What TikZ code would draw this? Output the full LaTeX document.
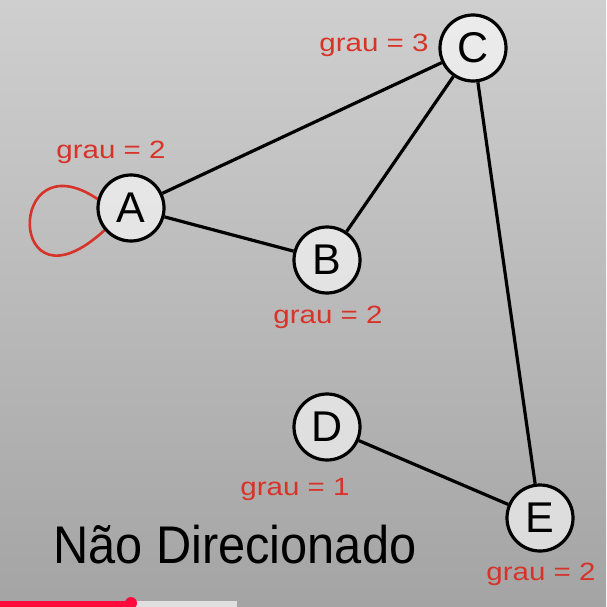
\documentclass[tikz,border=0pt]{standalone}
\usepackage{fontspec}
\setmainfont{Liberation Sans}
\pgfdeclarelayer{bg}
\pgfsetlayers{bg,main}
\definecolor{fundoalto}{RGB}{207,207,207}
\definecolor{fundobaixo}{RGB}{164,164,164}
\definecolor{vermelho}{RGB}{214,52,40}
\definecolor{barra}{RGB}{255,10,60}
\tikzset{
    vert/.style={circle, draw, line width=3.2pt, fill=white, fill opacity=.6, text opacity=1,
        minimum size=66pt, inner sep=0pt, font=\fontsize{43}{50}\selectfont},
    grau/.style={text=vermelho, inner sep=0pt, anchor=base, font=\fontsize{25}{30}\selectfont}
}
\tikzset{aresta/.style={line width=3.2pt}, laco/.style={draw=vermelho, line width=2.6pt}}
\newcommand{\largo}[2]{\scalebox{#1}[1]{#2}}

\begin{document}
\begin{tikzpicture}[x=1pt, y=-1pt]
    \useasboundingbox (0,0) rectangle (606,607);

    \node (A) [vert] at (131, 208) {A};
    \node (B) [vert] at (327, 260) {B};
    \node (C) [vert] at (473, 48) {C};
    \node (D) [vert] at (327, 427) {D};
    \node (E) [vert] at (540, 518) {E};

    \node (gA) [grau] at (111, 158) {\largo{1.18}{grau = 2}};
    \node (gB) [grau] at (328, 323) {\largo{1.18}{grau = 2}};
    \node (gC) [grau] at (374, 52) {\largo{1.18}{grau = 3}};
    \node (gD) [grau] at (295, 495) {\largo{1.18}{grau = 1}};
    \node (gE) [grau] at (541, 580) {\largo{1.18}{grau = 2}};

    \node (titulo) [anchor=base west, inner sep=0pt, font=\fontsize{53}{60}\selectfont] at (53, 563) {\largo{0.92}{Não Direcionado}};

    \begin{pgfonlayer}{bg}
        \shade[top color=fundoalto, bottom color=fundobaixo] (0,0) rectangle (606,607);
        \fill[gray!25] (131,601) rectangle (237,607);
        \fill[barra] (0,601) rectangle (131,607);
        \fill[barra] (131,603) circle (6pt);
        \draw (A) edge[aresta] (C);
        \draw (A) edge[aresta] (B);
        \draw (B) edge[aresta] (C);
        \draw (C) edge[aresta] (E);
        \draw (D) edge[aresta] (E);
        \draw[laco] (A.165) .. controls +(-92,-62) and +(-98,90) .. (A.220);
    \end{pgfonlayer}
\end{tikzpicture}
\end{document}
